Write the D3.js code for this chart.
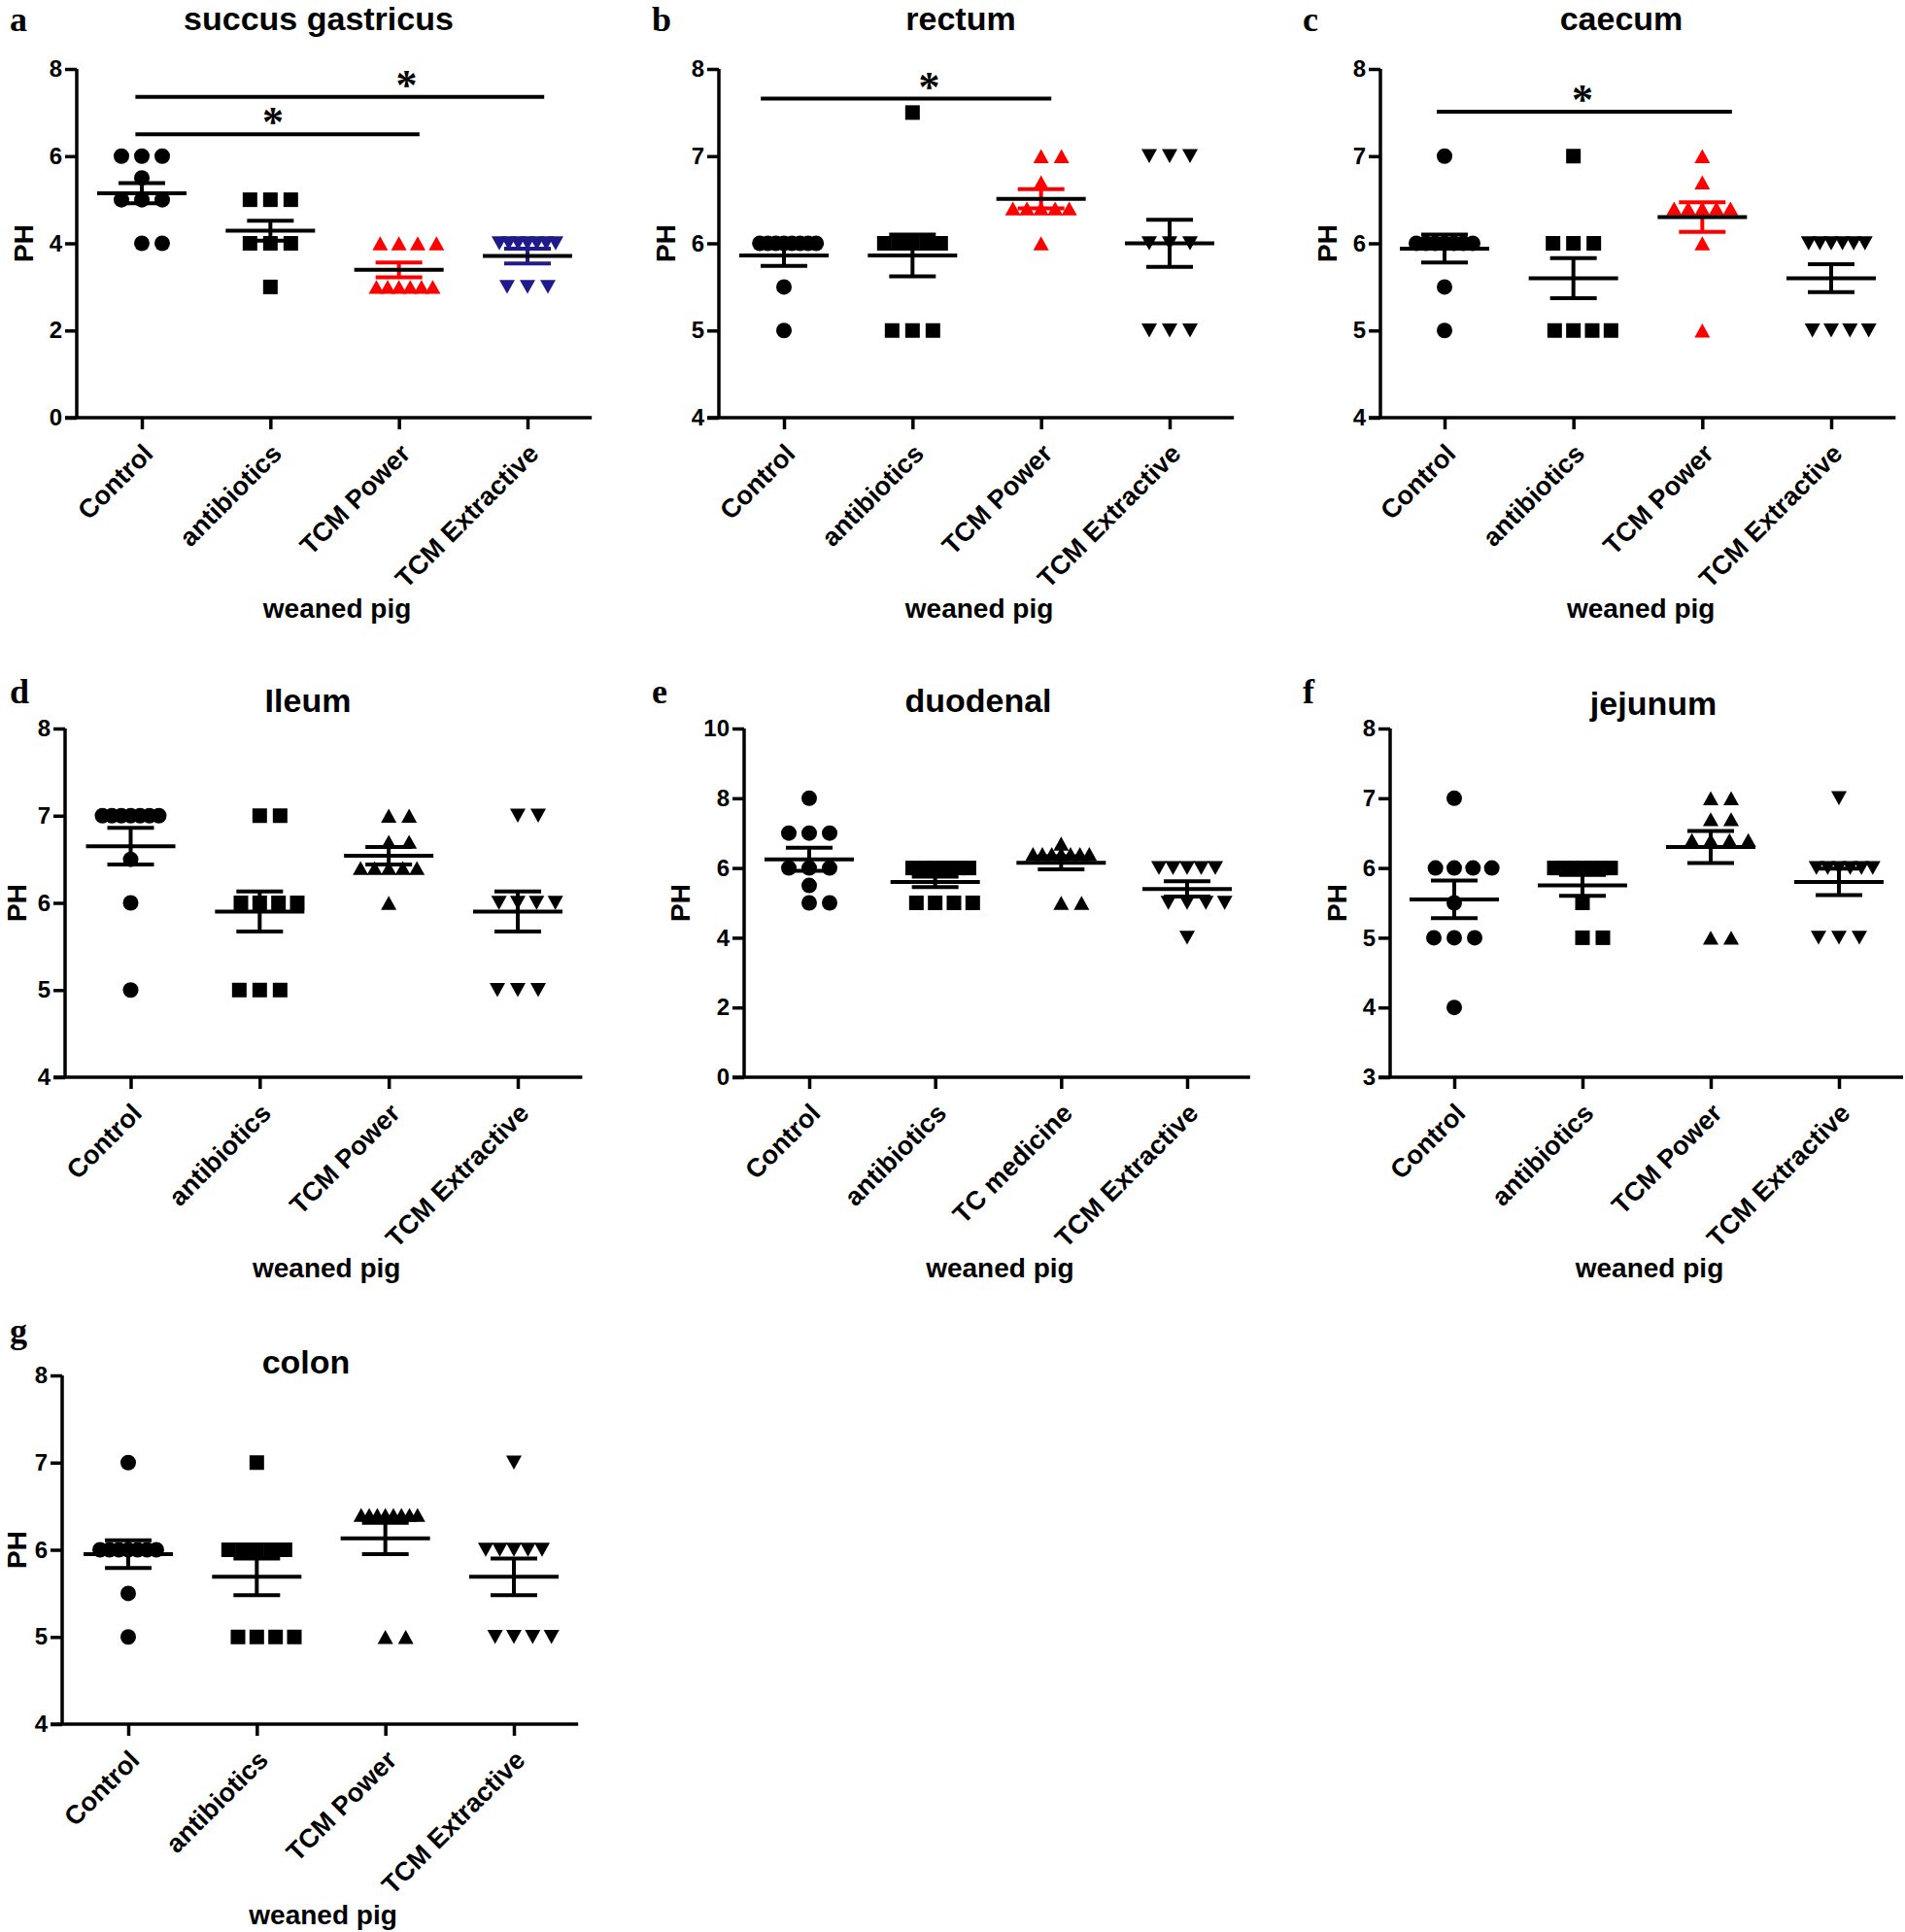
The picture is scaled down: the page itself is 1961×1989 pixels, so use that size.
<!DOCTYPE html>
<html><head><meta charset="utf-8">
<script src="https://cdn.jsdelivr.net/npm/d3@7"></script>
<style>
body{margin:0;background:#fff;}
svg{display:block;}
text{font-family:"Liberation Sans",Arial,sans-serif;font-weight:bold;fill:#000;}
.letter{font-family:"Liberation Serif","Times New Roman",serif;font-weight:bold;}
.star{font-family:"Liberation Serif","Times New Roman",serif;font-weight:bold;}
</style>
</head><body>
<svg id="chart" width="1961" height="1989"></svg>
<script>
// ---------- data ----------
const categories = ["Control", "antibiotics", "TCM Power", "TCM Extractive"];
const categoriesDuodenal = ["Control", "antibiotics", "TC medicine", "TCM Extractive"];

// a  succus gastricus
const gastricusPH = [[6,6,6,5.5,5,5,5,4,4],[5,5,5,4,4,4,3],[4,4,4,4,3,3,3,3,3,3],[4,4,4,4,4,4,4,3,3,3]];
const gastricusMean = [5.15, 4.29, 3.39, 3.71];
const gastricusSEM = [0.23, 0.23, 0.17, 0.17];
const gastricusSig = [{from:-0.05, to:3.13, y:7.36, star:2.06}, {from:-0.05, to:2.16, y:6.5, star:1.02}];

// b  rectum
const rectumPH = [[6,6,6,6,6,6,6,6,5.5,5],[7.5,6,6,6,6,6,5,5,5],[7,7,6.7,6.4,6.4,6.4,6.4,6.4,6],[7,7,7,6,6,6,5,5,5]];
const rectumMean = [5.86, 5.86, 6.51, 6.0];
const rectumSEM = [0.12, 0.24, 0.11, 0.27];
const rectumSig = [{from:-0.18, to:2.08, y:7.66, star:1.13}];

// c  caecum
const caecumPH = [[7,6,6,6,6,6,6,6,5.5,5],[7,6,6,6,5,5,5,5],[7,6.7,6.4,6.4,6.4,6.4,6.4,6,5],[6,6,6,6,6,6,5,5,5,5]];
const caecumMean = [5.94, 5.6, 6.3, 5.6];
const caecumSEM = [0.16, 0.23, 0.17, 0.16];
const caecumSig = [{from:-0.06, to:2.23, y:7.51, star:1.07}];

// d  Ileum
const ileumPH = [[7,7,7,7,7,7,7,6.5,6,5],[7,7,6,6,6,6,5,5,5],[7,7,6.7,6.7,6.4,6.4,6.4,6.4,6.4,6],[7,7,6,6,6,6,5,5,5]];
const ileumMean = [6.65, 5.9, 6.54, 5.9];
const ileumSEM = [0.21, 0.23, 0.1, 0.23];

// e  duodenal
const duodenalPH = [[8,7,7,7,6,6,6,5.5,5,5],[6,6,6,6,6,6,5,5,5,5],[6.7,6.4,6.4,6.4,6.4,6.4,6.4,6.4,5,5],[6,6,6,6,6,5,5,5,5,4]];
const duodenalMean = [6.25, 5.6, 6.15, 5.4];
const duodenalSEM = [0.33, 0.15, 0.19, 0.22];

// f  jejunum
const jejunumPH = [[7,6,6,6,6,5.5,5,5,5,4],[6,6,6,6,6,6,6,5.5,5,5],[7,7,6.7,6.7,6.4,6.4,6.4,6.4,5,5],[7,6,6,6,6,6,6,5,5,5]];
const jejunumMean = [5.55, 5.75, 6.3, 5.8];
const jejunumSEM = [0.27, 0.15, 0.23, 0.19];

// g  colon
const colonPH = [[7,6,6,6,6,6,6,6,5.5,5],[7,6,6,6,6,6,5,5,5,5],[6.4,6.4,6.4,6.4,6.4,6.4,6.4,6.4,5,5],[7,6,6,6,6,6,5,5,5,5]];
const colonMean = [5.95, 5.69, 6.13, 5.69];
const colonSEM = [0.16, 0.21, 0.18, 0.21];

const ticks0to8 = [0, 2, 4, 6, 8];
const ticks4to8 = [4, 5, 6, 7, 8];
const ticks0to10 = [0, 2, 4, 6, 8, 10];
const ticks3to8 = [3, 4, 5, 6, 7, 8];

// ---------- styles / layout ----------
const RED = "#ff0000", NAVY = "#1f1b8c", BLK = "#000000";
const panels = [
  {letter:"a", title:"succus gastricus", cats:categories, vals:gastricusPH, mean:gastricusMean, sem:gastricusSEM, sig:gastricusSig,
   domain:[0,8], ticks:ticks0to8, colors:[BLK,BLK,RED,NAVY],
   box:{left:79, first:146, last:543, top:71, bottom:430}, letterPos:[10,32], titlePos:[328,31]},
  {letter:"b", title:"rectum", cats:categories, vals:rectumPH, mean:rectumMean, sem:rectumSEM, sig:rectumSig,
   domain:[4,8], ticks:ticks4to8, colors:[BLK,BLK,RED,BLK],
   box:{left:740, first:807, last:1204, top:71, bottom:430}, letterPos:[671,32], titlePos:[989,31]},
  {letter:"c", title:"caecum", cats:categories, vals:caecumPH, mean:caecumMean, sem:caecumSEM, sig:caecumSig,
   domain:[4,8], ticks:ticks4to8, colors:[BLK,BLK,RED,BLK],
   box:{left:1421, first:1487, last:1885, top:71, bottom:430}, letterPos:[1341,32], titlePos:[1669,31]},
  {letter:"d", title:"Ileum", cats:categories, vals:ileumPH, mean:ileumMean, sem:ileumSEM, sig:[],
   domain:[4,8], ticks:ticks4to8, colors:[BLK,BLK,BLK,BLK],
   box:{left:67, first:134.5, last:533, top:750, bottom:1109}, letterPos:[10,724], titlePos:[317,733]},
  {letter:"e", title:"duodenal", cats:categoriesDuodenal, vals:duodenalPH, mean:duodenalMean, sem:duodenalSEM, sig:[],
   domain:[0,10], ticks:ticks0to10, colors:[BLK,BLK,BLK,BLK],
   box:{left:766, first:833, last:1222, top:750, bottom:1109}, letterPos:[671,724], titlePos:[1007,733]},
  {letter:"f", title:"jejunum", cats:categories, vals:jejunumPH, mean:jejunumMean, sem:jejunumSEM, sig:[],
   domain:[3,8], ticks:ticks3to8, colors:[BLK,BLK,BLK,BLK],
   box:{left:1431, first:1497, last:1893, top:750, bottom:1109}, letterPos:[1341,724], titlePos:[1702,736]},
  {letter:"g", title:"colon", cats:categories, vals:colonPH, mean:colonMean, sem:colonSEM, sig:[],
   domain:[4,8], ticks:ticks4to8, colors:[BLK,BLK,BLK,BLK],
   box:{left:64, first:132, last:529, top:1416, bottom:1775}, letterPos:[10,1382], titlePos:[315,1414]}
];

// marker shapes (size = width in px)
const triUp = {draw(ctx, w){ const h = w*0.9; ctx.moveTo(0,-h/2); ctx.lineTo(w/2,h/2); ctx.lineTo(-w/2,h/2); ctx.closePath(); }};
const triDown = {draw(ctx, w){ const h = w*0.9; ctx.moveTo(0,h/2); ctx.lineTo(w/2,-h/2); ctx.lineTo(-w/2,-h/2); ctx.closePath(); }};
const circ = {draw(ctx, w){ ctx.moveTo(w/2,0); ctx.arc(0,0,w/2,0,2*Math.PI); }};
const sq = {draw(ctx, w){ ctx.rect(-w/2,-w/2,w,w); }};
const shapes = [circ, sq, triUp, triDown];
const shapeSize = [16, 15, 16, 16];

function spread(values, step, maxSpan){
  const groups = d3.group(values, v => v);
  const out = [];
  for (const [v, arr] of groups){
    const k = arr.length;
    const s = k > 1 ? Math.min(step, maxSpan/(k-1)) : 0;
    arr.forEach((_, j) => {
      const m = j === 0 ? 0 : (j % 2 === 1 ? Math.ceil(j/2) : -Math.ceil(j/2));
      out.push({v, dx: m*s});
    });
  }
  return out;
}

const svg = d3.select("#chart");
const AXW = 3.5;

panels.forEach(p => {
  const b = p.box;
  const step = (b.last - b.first)/3;
  const x = d3.scaleLinear().domain([0, 3]).range([b.first, b.last]);
  const right = b.last + step/2;
  const y = d3.scaleLinear().domain(p.domain).range([b.bottom, b.top]);
  const g = svg.append("g");

  // panel letter & title
  g.append("text").attr("class","letter").attr("x", p.letterPos[0]).attr("y", p.letterPos[1])
    .attr("font-size", 36).text(p.letter);
  g.append("text").attr("x", p.titlePos[0]).attr("y", p.titlePos[1]).attr("text-anchor","middle")
    .attr("font-size", 34).text(p.title);

  // y axis
  const yAxis = d3.axisLeft(y).tickValues(p.ticks).tickSize(12).tickPadding(3).tickFormat(d3.format("d"));
  const ya = g.append("g").attr("transform", `translate(${b.left},0)`).call(yAxis);
  ya.select(".domain").attr("d", `M0,${b.top}V${b.bottom}`).attr("stroke","#000").attr("stroke-width",AXW);
  ya.selectAll(".tick line").attr("stroke","#000").attr("stroke-width",AXW);
  ya.selectAll(".tick text").attr("font-size", 24).attr("font-family",null).style("font-weight","bold").attr("fill","#000");

  // x axis
  const xAxis = d3.axisBottom(x).tickValues([0,1,2,3]).tickSize(12).tickFormat(i => p.cats[i]);
  const xa = g.append("g").attr("transform", `translate(0,${b.bottom})`).call(xAxis);
  xa.select(".domain").attr("d", `M${b.left-12},0H${right}`).attr("stroke","#000").attr("stroke-width",AXW);
  xa.selectAll(".tick line").attr("stroke","#000").attr("stroke-width",AXW);
  xa.selectAll(".tick text").attr("font-size", 27).attr("font-family",null).style("font-weight","bold").attr("fill","#000")
    .attr("text-anchor","end").attr("dy","0.35em")
    .attr("transform","translate(6,32) rotate(-45)").attr("y",0).attr("x",0);

  // axis titles
  const phX = Math.max(b.left - (p.letter==="e"?66:55), 17);
  g.append("text").attr("transform", `translate(${phX},${(b.top+b.bottom)/2}) rotate(-90)`)
    .attr("text-anchor","middle").attr("dy","0.36em").attr("font-size",28).text("PH");
  g.append("text").attr("x", (b.left+right)/2 + 3).attr("y", b.bottom + 206).attr("text-anchor","middle")
    .attr("font-size",28).text("weaned pig");

  // points
  p.vals.forEach((vals, ci) => {
    const pts = spread(vals, 21, 58);
    const sym = d3.symbol().type(shapes[ci]).size(shapeSize[ci]);
    g.append("g").selectAll("path").data(pts).join("path")
      .attr("transform", d => `translate(${x(ci)+d.dx},${y(d.v)})`)
      .attr("d", sym).attr("fill", p.colors[ci]);
  });

  // SEM and means
  p.mean.forEach((m, ci) => {
    const cx = x(ci), s = p.sem[ci], col = p.colors[ci];
    const eg = g.append("g").attr("stroke-width",4).attr("fill","none");
    eg.append("line").attr("x1",cx).attr("x2",cx).attr("y1",y(m+s)).attr("y2",y(m-s)).attr("stroke",col);
    eg.append("line").attr("x1",cx-24).attr("x2",cx+24).attr("y1",y(m+s)).attr("y2",y(m+s)).attr("stroke",col);
    eg.append("line").attr("x1",cx-24).attr("x2",cx+24).attr("y1",y(m-s)).attr("y2",y(m-s)).attr("stroke",col);
    eg.append("line").attr("x1",cx-46).attr("x2",cx+46).attr("y1",y(m)).attr("y2",y(m)).attr("stroke","#000");
  });

  // significance
  p.sig.forEach(sg => {
    g.append("line").attr("x1", x(sg.from)).attr("x2", x(sg.to)).attr("y1", y(sg.y)).attr("y2", y(sg.y))
      .attr("stroke","#000").attr("stroke-width",4);
    g.append("text").attr("class","star").attr("x", x(sg.star)).attr("y", y(sg.y) + 2)
      .attr("text-anchor","middle").attr("font-size",44).text("*");
  });
});
</script>
</body></html>
